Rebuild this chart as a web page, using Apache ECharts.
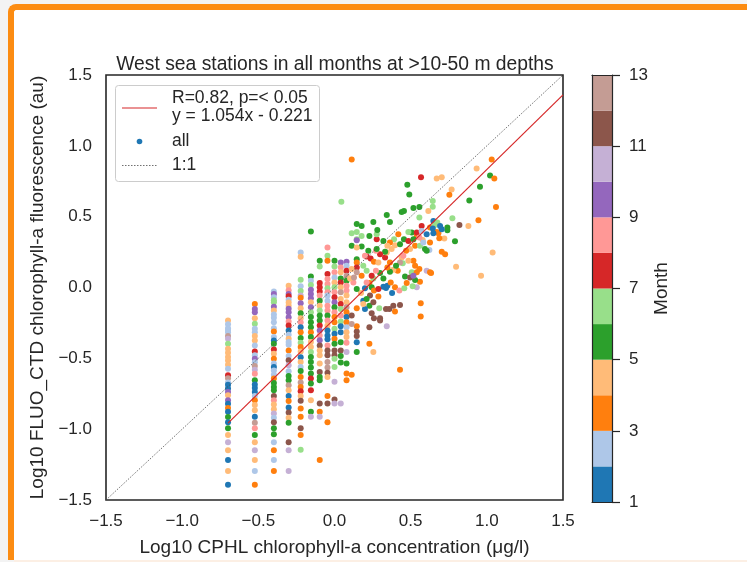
<!DOCTYPE html>
<html><head><meta charset="utf-8">
<script src="https://cdn.jsdelivr.net/npm/echarts@6/dist/echarts.min.js"></script>
<style>
html,body{margin:0;padding:0;background:#f3f3f3;width:747px;height:562px;overflow:hidden}
#frame{position:absolute;left:8px;top:4px;width:760px;height:556px;background:#fff;border-top:6px solid #fc8c12;border-left:6px solid #fc8c12;border-top-left-radius:8px;box-sizing:border-box}
#foot{position:absolute;left:14px;top:560px;width:740px;height:2px;background:#fcefe4}
#chart{position:absolute;left:0;top:0;width:747px;height:562px}
</style></head><body><div id="frame"></div><div id="foot"></div><div id="chart"></div>
<script>
// ---- data ----
const monthColors = ['#1f77b4','#aec7e8','#ff7f0e','#ffbb78','#2ca02c','#98df8a','#d62728','#ff9896','#9467bd','#c5b0d5','#8c564b','#c49c94'];
const colorbarMonths = [1,2,3,4,5,6,7,8,9,10,11,12];
const slope = 1.054, intercept = -0.221;
const fitRange = [-0.699, 1.5];
const oneToOne = [-1.5, 1.5];

// discrete CPHL columns (x) with [log10 fluorescence, month]
const colX = [-0.699,-0.523,-0.398,-0.301,-0.222,-0.155,-0.097,-0.046,0.0,0.041,0.079];
const colA = [[-0.233,4],[-0.26,2],[-0.287,2],[-0.3,2],[-0.315,2],[-0.343,12],[-0.362,10],[-0.397,6],[-0.432,4],[-0.46,4],[-0.49,4],[-0.515,4],[-0.545,4],[-0.573,2],[-0.62,7],[-0.64,12],[-0.67,2],[-0.686,1],[-0.713,1],[-0.737,9],[-0.76,4],[-0.795,9],[-0.82,1],[-0.85,3],[-0.877,1],[-0.914,5],[-0.952,1],[-0.994,5],[-1.041,4],[-1.093,10],[-1.149,4],[-1.217,1],[-1.295,4],[-1.393,1]];
const colB = [[-0.116,3],[-0.151,9],[-0.175,9],[-0.217,4],[-0.256,6],[-0.292,2],[-0.315,2],[-0.343,4],[-0.374,4],[-0.409,2],[-0.451,7],[-0.479,2],[-0.503,9],[-0.527,2],[-0.554,12],[-0.58,10],[-0.608,8],[-0.655,5],[-0.685,1],[-0.709,1],[-0.737,1],[-0.765,2],[-0.795,3],[-0.83,4],[-0.866,4],[-0.912,1],[-0.955,12],[-0.994,8],[-1.041,5],[-1.093,4],[-1.149,10],[-1.217,4],[-1.295,2],[-1.393,3]];
const colC = [[-0.029,2],[-0.046,9],[-0.069,2],[-0.09,6],[-0.104,6],[-0.135,9],[-0.163,4],[-0.19,2],[-0.214,2],[-0.245,2],[-0.287,2],[-0.31,3],[-0.35,2],[-0.374,1],[-0.397,5],[-0.437,7],[-0.467,4],[-0.503,3],[-0.537,2],[-0.561,1],[-0.585,2],[-0.615,2],[-0.643,3],[-0.674,5],[-0.702,5],[-0.726,5],[-0.765,11],[-0.795,8],[-0.826,4],[-0.86,4],[-0.889,10],[-0.919,2],[-0.952,11],[-0.994,5],[-1.036,5],[-1.093,2],[-1.149,3],[-1.217,2],[-1.295,3]];
const colD = [[0.013,4],[-0.02,8],[-0.046,9],[-0.062,7],[-0.086,2],[-0.105,4],[-0.128,4],[-0.15,9],[-0.175,9],[-0.21,9],[-0.24,8],[-0.268,7],[-0.303,1],[-0.334,2],[-0.362,4],[-0.385,2],[-0.404,2],[-0.444,3],[-0.484,2],[-0.514,11],[-0.549,10],[-0.592,2],[-0.624,5],[-0.655,5],[-0.69,12],[-0.725,4],[-0.765,1],[-0.802,3],[-0.847,1],[-0.882,11],[-0.919,4],[-0.955,5],[-1.093,11],[-1.149,10],[-1.295,10]];
const colE = [[0.247,2],[0.217,4],[0.055,6],[0.008,2],[-0.025,6],[-0.057,10],[-0.072,3],[-0.111,9],[-0.146,4],[-0.181,5],[-0.217,4],[-0.245,8],[-0.28,1],[-0.315,3],[-0.357,5],[-0.39,6],[-0.42,3],[-0.451,4],[-0.493,1],[-0.526,4],[-0.561,2],[-0.59,5],[-0.631,3],[-0.67,12],[-0.702,3],[-0.732,7],[-0.765,4],[-0.8,11],[-0.854,3],[-0.912,3],[-0.994,11],[-1.041,3],[-1.146,6]];
const colF = [[0.395,5],[0.078,5],[0.048,2],[0.018,6],[-0.015,9],[-0.046,9],[-0.076,9],[-0.104,4],[-0.139,9],[-0.174,6],[-0.209,5],[-0.245,5],[-0.28,5],[-0.315,3],[-0.35,5],[-0.385,4],[-0.42,4],[-0.455,6],[-0.49,5],[-0.526,5],[-0.565,5],[-0.607,5],[-0.643,7],[-0.678,5],[-0.725,7],[-0.795,4],[-0.877,5],[-0.912,10]];
const colG = [[0.188,5],[0.149,6],[0.032,7],[0.001,7],[-0.029,7],[-0.057,8],[-0.093,5],[-0.128,4],[-0.163,6],[-0.198,5],[-0.233,5],[-0.268,7],[-0.303,9],[-0.338,8],[-0.373,9],[-0.409,11],[-0.444,4],[-0.479,4],[-0.537,4],[-0.596,11],[-0.631,5],[-0.655,5],[-0.819,11],[-0.877,3],[-0.912,10],[-1.217,3]];
const colH = [[0.282,8],[0.224,6],[0.188,3],[0.095,7],[0.06,8],[0.025,8],[-0.006,6],[-0.034,8],[-0.057,2],[-0.093,2],[-0.128,8],[-0.163,8],[-0.198,5],[-0.233,8],[-0.268,4],[-0.303,1],[-0.338,1],[-0.366,1],[-0.409,8],[-0.444,11],[-0.479,11],[-0.526,12],[-0.565,12],[-0.601,11],[-0.631,4],[-0.765,3],[-0.819,11],[-0.952,3]];
const colI = [[0.188,5],[0.149,6],[0.107,8],[0.071,2],[0.036,4],[0.001,6],[-0.034,8],[-0.069,7],[-0.104,9],[-0.139,5],[-0.174,8],[-0.209,3],[-0.245,3],[-0.292,6],[-0.327,1],[-0.362,3],[-0.397,5],[-0.444,11],[-0.479,11],[-0.503,6],[-0.561,6],[-0.666,10],[-0.79,11],[-0.819,10]];
const colJ = [[0.177,9],[0.142,8],[0.107,4],[0.064,5],[0.036,7],[0.001,4],[-0.034,12],[-0.081,4],[-0.116,7],[-0.151,6],[-0.198,8],[-0.24,6],[-0.273,1],[-0.315,1],[-0.386,5],[-0.444,11],[-0.483,5],[-0.53,5],[-0.819,10]];
const colK = [[0.182,9],[0.153,2],[0.118,7],[0.083,12],[0.048,5],[0.013,8],[-0.022,8],[-0.057,4],[-0.104,4],[-0.139,12],[-0.174,3],[-0.209,1],[-0.245,3],[-0.28,2],[-0.315,4],[-0.35,4],[-0.39,8],[-0.456,10],[-0.537,5],[-0.607,3],[-0.655,3]];

// scattered cloud [x, y, month]
const cloud = [
[0.113,0.903,3],[0.568,0.778,7],[0.671,0.769,4],[0.704,0.778,4],[1.032,0.903,3],[0.933,0.840,4],[1.021,0.791,5],[1.049,0.769,3],
[0.955,0.711,5],[0.769,0.692,4],[0.754,0.655,3],[0.885,0.615,5],[1.060,0.568,3],[0.478,0.725,5],[0.491,0.657,5],[0.045,0.605,6],
[0.645,0.610,6],[0.645,0.570,6],[0.557,0.568,5],[0.518,0.561,5],[0.456,0.540,5],[0.441,0.533,5],[0.616,0.540,4],[0.343,0.512,5],
[0.557,0.495,6],[0.364,0.463,5],[0.255,0.463,5],[0.146,0.449,5],[0.649,0.470,1],[0.675,0.459,6],[0.774,0.489,6],[0.820,0.441,11],
[0.879,0.434,4],[0.945,0.474,3],[0.741,0.423,5],[0.741,0.404,5],[0.791,0.327,5],[1.038,0.247,4],[0.721,0.346,4],[0.682,0.383,3],
[0.688,0.348,3],[0.704,0.252,3],[0.726,0.235,3],[0.798,0.146,4],[0.962,0.083,4],[0.634,0.102,3],[0.540,0.001,10],[0.566,-0.111,3],
[0.566,-0.205,3],[0.430,-0.580,3],[0.113,-0.615,3],[0.229,-0.397,3],[0.255,-0.456,4],[0.146,-0.456,5],[0.343,-0.273,10],[0.397,-0.170,3],
[0.146,-0.386,1],[0.146,-0.343,11],[0.146,-0.310,11],[0.229,-0.280,11],[0.146,-0.273,3],[0.299,-0.217,11],[0.299,-0.233,11],[0.244,-0.182,11],
[0.259,-0.217,11],[0.338,-0.151,11],[0.360,-0.151,11],[0.386,-0.128,11],[0.430,-0.123,11],[0.294,-0.146,6],[0.229,-0.128,5],[0.200,-0.151,1],
[0.189,-0.093,1],[0.255,-0.104,11],[0.288,-0.064,3],[0.321,0.006,1],[0.338,-0.004,1],[0.347,0.013,1],[0.378,-0.039,1],[0.397,0.001,3],
[0.369,0.036,3],[0.426,-0.022,8],[0.458,-0.006,6],[0.474,0.032,3],[0.507,0.107,6],[0.463,0.078,5],[0.529,0.153,3],[0.540,0.107,3],
[0.605,0.118,10],[0.627,0.107,3],[0.518,0.189,3],[0.485,0.189,4],[0.441,0.212,4],[0.448,0.172,6],[0.415,0.118,3],[0.386,0.125,4],
[0.364,0.111,5],[0.347,0.142,3],[0.321,0.064,5],[0.299,0.102,5],[0.272,0.118,8],[0.255,0.064,6],[0.229,0.032,3],[0.200,-0.006,1],
[0.174,-0.039,4],[0.146,-0.011,5],[0.124,0.036,8],[0.102,0.064,4],[0.332,0.212,7],[0.343,0.247,4],[0.375,0.271,4],[0.397,0.299,4],
[0.430,0.306,5],[0.456,0.341,5],[0.485,0.329,7],[0.507,0.388,5],[0.540,0.364,3],[0.529,0.294,3],[0.561,0.294,6],[0.579,0.336,4],
[0.605,0.376,1],[0.627,0.423,3],[0.583,0.317,2],[0.594,0.271,5],[0.623,0.264,2],[0.572,0.434,7],[0.540,0.388,7],[0.485,0.392,6],
[0.419,0.376,3],[0.391,0.341,6],[0.364,0.317,3],[0.321,0.329,5],[0.347,0.294,4],[0.332,0.252,5],[0.299,0.235,7],[0.272,0.259,8],
[0.277,0.341,7],[0.277,0.376,6],[0.281,0.406,5],[0.229,0.364,5],[0.178,0.364,6],[0.146,0.341,6],[0.146,0.392,6],[0.113,0.383,6],
[0.113,0.294,5],[0.178,0.289,5],[0.222,0.259,5],[0.211,0.219,7],[0.237,0.205,7],[0.259,0.182,3],[0.288,0.177,4],[0.146,0.200,5],
[0.146,0.177,3],[0.146,0.142,7],[0.189,0.153,6],[0.211,0.118,6],[0.244,0.083,7],[0.178,0.083,3],[0.146,0.107,12],[0.113,0.130,4],
[0.128,0.071,12],[0.211,0.036,8],[0.244,0.001,5],[0.259,-0.022,3],[0.288,-0.011,7],[0.233,-0.057,11],[0.211,-0.081,5],[0.189,-0.116,4],
[0.146,-0.146,3],[0.113,-0.198,11],[0.113,-0.257,12],[0.561,0.041,3],[0.529,0.053,5],[0.513,0.008,6],[0.496,0.071,11],[0.518,0.083,9],
[0.557,0.130,3],[0.627,0.317,3],[0.605,0.259,5],[0.656,0.439,6],[0.671,0.392,3],[0.693,0.434,1],[0.704,0.411,1],[0.645,0.416,1],
[0.649,0.383,1],[0.572,0.399,2],[0.557,0.353,8],[0.518,0.341,5],[0.496,0.271,4],[0.470,0.259,3],[0.452,0.224,8],[0.430,0.177,12],
[0.404,0.153,5],[0.364,0.177,3],[0.277,0.271,5],[0.146,0.282,4],[0.200,0.224,8],[0.146,0.334,9],[0.178,0.434,5]
];

// ---- build ----
const columns = [colA,colB,colC,colD,colE,colF,colG,colH,colI,colJ,colK];
const points = [];
columns.forEach((col,i)=>col.forEach(([y,m])=>points.push([colX[i],y,m])));
cloud.forEach(p=>points.push(p));
const fitSeg = [fitRange[0], slope*fitRange[0]+intercept, fitRange[1], slope*fitRange[1]+intercept];
const oneSeg = [oneToOne[0], oneToOne[0], oneToOne[1], oneToOne[1]];
const fmt = v => (v<0?'\u2212':'') + Math.abs(v).toFixed(1);
const FONT = '"Liberation Sans", Arial, sans-serif';
const TXT = '#262626';
const LF = 17.5;

function segmentRenderer(style){
  return (params, api) => {
    const a = api.coord([api.value(0), api.value(1)]);
    const b = api.coord([api.value(2), api.value(3)]);
    return {type:'line', shape:{x1:a[0],y1:a[1],x2:b[0],y2:b[1]}, style:Object.assign({fill:null}, style)};
  };
}

const chart = echarts.init(document.getElementById('chart'), null, {renderer:'canvas'});
chart.setOption({
  backgroundColor:'transparent',
  animation:false,
  textStyle:{fontFamily:FONT,color:TXT},
  title:{text:'West sea stations in all months at >10-50 m depths',left:330,top:50,textAlign:'center',
    textStyle:{fontFamily:FONT,fontSize:19.3,fontWeight:'normal',color:TXT}},
  grid:[
    {left:106,top:75,width:457,height:427,show:true,borderColor:'#262626',borderWidth:1.6,backgroundColor:'#fff'},
    {left:592,top:75,width:20,height:427,show:false}
  ],
  xAxis:[
    {gridIndex:0,type:'value',min:-1.5,max:1.5,interval:0.5,
     axisLine:{show:false},axisTick:{show:false},splitLine:{show:false},
     axisLabel:{formatter:fmt,fontSize:17,color:TXT,fontFamily:FONT,margin:13,showMinLabel:true,showMaxLabel:true},
     name:'Log10 CPHL chlorophyll-a concentration (\u03bcg/l)',nameLocation:'middle',nameGap:38,
     nameTextStyle:{fontSize:19,color:TXT,fontFamily:FONT}},
    {gridIndex:1,type:'value',min:0,max:1,show:true,position:'bottom',
     axisLine:{show:true,onZero:false,lineStyle:{color:'#262626',width:1.2}},axisTick:{show:false},axisLabel:{show:false},splitLine:{show:false}},
    {gridIndex:1,type:'value',min:0,max:1,show:true,position:'top',
     axisLine:{show:true,onZero:false,lineStyle:{color:'#262626',width:1.2}},axisTick:{show:false},axisLabel:{show:false},splitLine:{show:false}}
  ],
  yAxis:[
    {gridIndex:0,type:'value',min:-1.5,max:1.5,interval:0.5,
     axisLine:{show:false},axisTick:{show:false},splitLine:{show:false},
     axisLabel:{formatter:fmt,fontSize:17,color:TXT,fontFamily:FONT,margin:14,showMinLabel:true,showMaxLabel:true},
     name:'Log10 FLUO_CTD chlorophyll-a fluorescence (au)',nameLocation:'middle',nameGap:56,nameRotate:90,
     nameTextStyle:{fontSize:19,color:TXT,fontFamily:FONT}},
    {gridIndex:1,type:'value',min:1,max:13,interval:2,position:'right',
     axisLine:{show:true,onZero:false,lineStyle:{color:'#262626',width:1.2}},
     axisTick:{show:true,inside:false,length:8,lineStyle:{color:'#262626',width:1.2}},splitLine:{show:false},
     axisLabel:{fontSize:17,color:TXT,fontFamily:FONT,margin:17,showMinLabel:true,showMaxLabel:true},
     name:'Month',nameLocation:'middle',nameGap:40,nameRotate:90,
     nameTextStyle:{fontSize:19,color:TXT,fontFamily:FONT}},
    {gridIndex:1,type:'value',min:1,max:13,position:'left',show:true,
     axisLine:{show:true,onZero:false,lineStyle:{color:'#262626',width:1.2}},axisTick:{show:false},axisLabel:{show:false},splitLine:{show:false}}
  ],
  series:[
    {type:'scatter',xAxisIndex:0,yAxisIndex:0,data:points,symbolSize:6,z:2,
     itemStyle:{color:p=>monthColors[p.data[2]-1],opacity:1}},
    {type:'custom',xAxisIndex:0,yAxisIndex:0,data:[fitSeg],z:3,silent:true,
     renderItem:segmentRenderer({stroke:'#d62728',lineWidth:1.2})},
    {type:'custom',xAxisIndex:0,yAxisIndex:0,data:[oneSeg],z:3,silent:true,
     renderItem:segmentRenderer({stroke:'#4d4d4d',lineWidth:0.8,lineDash:[1.5,1.5]})},
    {type:'custom',xAxisIndex:1,yAxisIndex:1,data:colorbarMonths.map(m=>[0,m]),z:-1,
     renderItem:(params,api)=>{
       const m = api.value(1);
       const p0 = api.coord([0,m]);
       const p1 = api.coord([1,m+1]);
       return {type:'rect',shape:{x:p0[0],y:p1[1],width:p1[0]-p0[0],height:p0[1]-p1[1]},
               style:{fill:monthColors[m-1]}};
     }}
  ],
  graphic:[
    {type:'rect',left:115,top:85,shape:{width:204,height:96,r:3},z:10,
     style:{fill:'rgba(255,255,255,0.9)',stroke:'#cccccc',lineWidth:1}},
    {type:'line',z:11,shape:{x1:122,y1:108,x2:157,y2:108},style:{stroke:'#d62728',lineWidth:1.2}},
    {type:'text',z:11,x:172,y:98,style:{text:'R=0.82, p=< 0.05',fontSize:LF,fontFamily:FONT,fill:TXT,verticalAlign:'middle'}},
    {type:'text',z:11,x:172,y:116,style:{text:'y = 1.054x - 0.221',fontSize:LF,fontFamily:FONT,fill:TXT,verticalAlign:'middle'}},
    {type:'circle',z:11,shape:{cx:139.5,cy:141.5,r:2.8},style:{fill:'#1f77b4'}},
    {type:'text',z:11,x:172,y:141,style:{text:'all',fontSize:LF,fontFamily:FONT,fill:TXT,verticalAlign:'middle'}},
    {type:'line',z:11,shape:{x1:122,y1:165.5,x2:157,y2:165.5},style:{stroke:'#4d4d4d',lineWidth:0.8,lineDash:[1.5,1.5]}},
    {type:'text',z:11,x:172,y:165.5,style:{text:'1:1',fontSize:LF,fontFamily:FONT,fill:TXT,verticalAlign:'middle'}}
  ]
});
</script></body></html>
